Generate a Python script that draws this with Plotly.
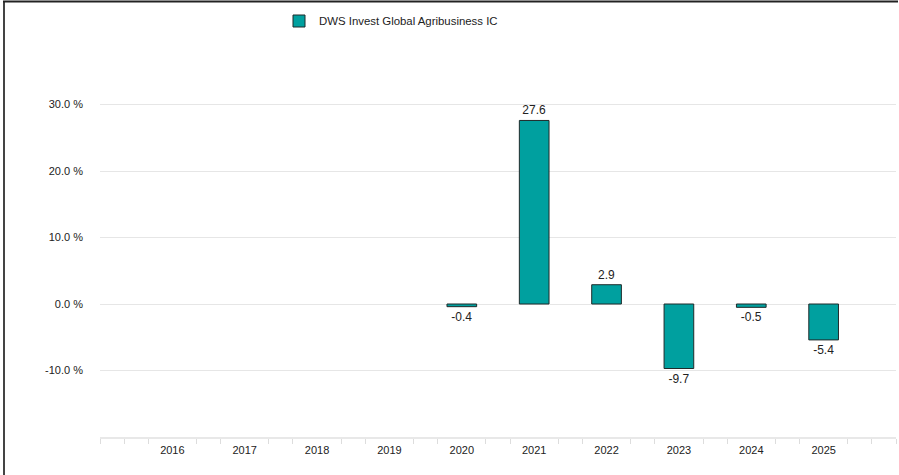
import plotly.graph_objects as go

years = [2016, 2017, 2018, 2019, 2020, 2021, 2022, 2023, 2024, 2025]
returns = [None, None, None, None, -0.4, 27.6, 2.9, -9.7, -0.5, -5.4]
series_name = "DWS Invest Global Agribusiness IC"
y_tick_values = [-20, -10, 0, 10, 20, 30, 40]
y_tick_labels = ["", "-10.0 %", "0.0 %", "10.0 %", "20.0 %", "30.0 %", ""]

W, H = 899, 475
ML, MR, MT, MB = 100, 3, 38, 38

labels = ["" if v is None else f"{v:.1f}" for v in returns]

fig = go.Figure()
fig.add_trace(go.Bar(
    x=years, y=returns, name=series_name,
    width=0.41,
    marker=dict(color="#00A09F", line=dict(color="#1f2a2a", width=1)),
    text=labels, textposition="outside",
    textfont=dict(family="Arial, Liberation Sans, sans-serif", size=12, color="#222222"),
    cliponaxis=False,
    showlegend=True,
))

x0, x1 = years[0] - 1, years[-1] + 1
minor_vals = []
for k in range(int(x0), int(x1)):
    minor_vals += [k + 1/3, k + 2/3]
minor_vals = sorted([x0] + minor_vals + [x1])

PW = W - ML - MR
PH = H - MT - MB

fig.update_layout(
    width=W, height=H,
    margin=dict(l=ML, r=MR, t=MT, b=MB, pad=0),
    paper_bgcolor="white", plot_bgcolor="white",
    font=dict(family="Arial, Liberation Sans, sans-serif", size=11, color="#333333"),
    legend=dict(
        orientation="h", x=(279 - ML) / PW, xanchor="left",
        y=1 + (MT - 21) / PH, yanchor="middle",
        font=dict(size=11.4, color="#222222"),
        bgcolor="rgba(0,0,0,0)",
        itemclick=False,
    ),
    xaxis=dict(
        range=[x0, x1],
        tickmode="array", tickvals=years, ticktext=[str(y) for y in years],
        ticks="", showgrid=False, zeroline=False,
        showline=True, linecolor="#e8e8e8", linewidth=2,
        ticklabelstandoff=2,
        tickfont=dict(size=11, color="#222222"),
        minor=dict(tickmode="array", tickvals=minor_vals, ticks="outside",
                   ticklen=5, tickcolor="#dddddd", tickwidth=1, showgrid=False),
    ),
    yaxis=dict(
        range=[-20, 40],
        tickmode="array", tickvals=y_tick_values, ticktext=y_tick_labels,
        showgrid=True, gridcolor="#e6e6e6", gridwidth=1,
        zeroline=False, showline=False, ticks="",
        ticklabelstandoff=16,
        tickfont=dict(size=11, color="#222222"),
    ),
    shapes=[
        dict(type="line", xref="paper", yref="paper",
             x0=(4 - ML) / PW, x1=(4 - ML) / PW,
             y0=-MB / PH, y1=1 + (MT - 1) / PH,
             line=dict(color="#444444", width=2)),
        dict(type="rect", xref="paper", yref="paper", layer="above",
             x0=(3 - ML) / PW, x1=1 + (MR - 1) / PW,
             y0=1 + (MT - 0.5) / PH, y1=1 + (MT - 2.5) / PH,
             fillcolor="#222222", line=dict(width=0)),
    ],
)

fig.write_html("out.html", config={"displayModeBar": False},
               post_script="document.body.style.margin='0';document.body.style.overflow='hidden';")
